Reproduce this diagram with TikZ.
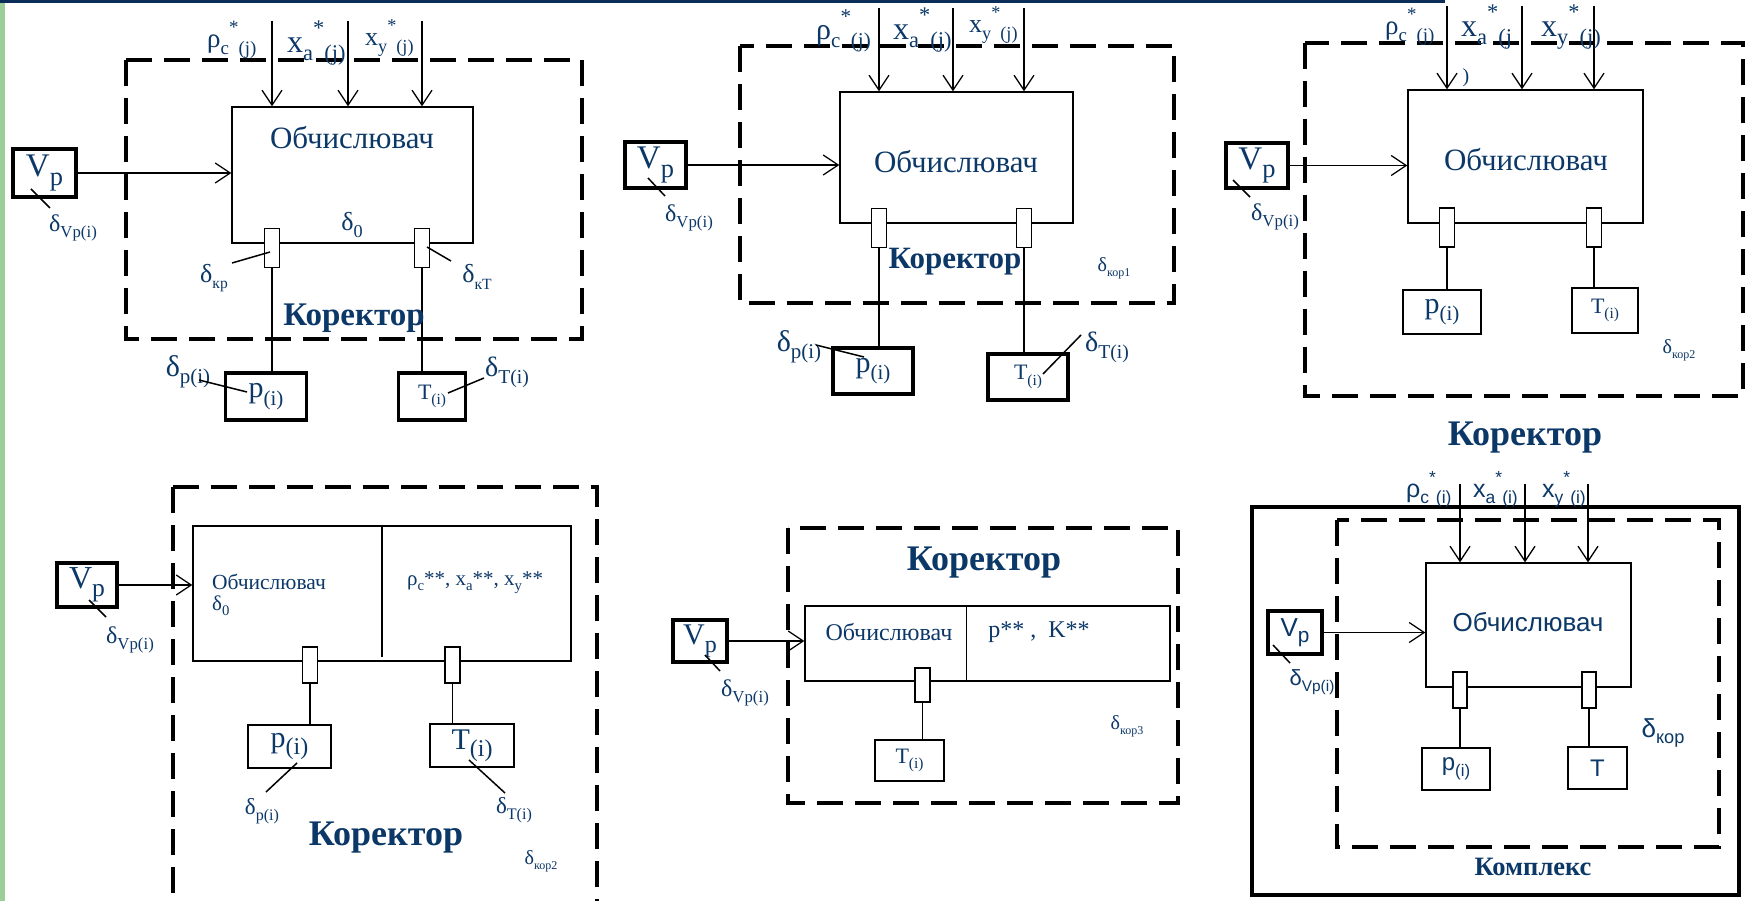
\documentclass[tikz,border=0pt]{standalone}
\usepackage{fontspec}
\setmainfont{Liberation Serif}
\newfontfamily\arialf{Liberation Sans}
\usetikzlibrary{arrows.meta}
\definecolor{navy}{RGB}{12,56,104}
\definecolor{barnavy}{RGB}{10,45,90}
\definecolor{sidegreen}{RGB}{155,206,152}
\newcommand\fs[1]{\fontsize{#1}{#1}\selectfont}
\newcommand\lo[2][0.7]{\raisebox{-0.25em}{\scalebox{#1}{#2}}}
\newcommand\hi[2][0.7]{\raisebox{0.55em}{\scalebox{#1}{#2}}}
\begin{document}
\begin{tikzpicture}[x=1pt,y=-1pt,
 box/.style={draw,line width=1.3pt,inner sep=0pt,text=navy},
 tbox/.style={draw,line width=3.5pt,inner sep=0pt,text=navy},
 sz/.style 2 args={minimum width=#1pt,minimum height=#2pt},
 port/.style={draw,line width=1.3pt,fill=white,inner sep=0pt,minimum width=15pt,minimum height=39pt},
 dbox/.style={draw,line width=4pt,dash pattern=on 26pt off 12pt},
 arr/.style={line width=1.3pt,-{Straight Barb[length=15pt,width=20pt]}},
 lab/.style={text=navy,inner sep=0pt},
 lead/.style={line width=1.5pt},
 wire/.style={line width=1.4pt},
 twire/.style={line width=2.5pt},
 kor/.style={lab,font=\bfseries\fs{#1}}]
\clip (0,0) rectangle (1746,901);
\fill[white] (0,0) rectangle (1746,901);
\fill[barnavy] (0,0) rectangle (1445,3);
\fill[sidegreen] (0,3) rectangle (5,901);

% ---------- Panel 1 ----------
\draw[dbox] (126,60) rectangle (582,339);
\node[box,sz={241}{136}] (ob1) at (352.5,175) {};
\node[lab,font=\fs{31}] (ob1t) at (352,138) {Обчислювач};
\node[lab,font=\fs{26}] (d01) at (352,225) {δ\lo{0}};
\node[port] (pa1) at (272,248) {};
\node[port] (pb1) at (422,248) {};
\node[tbox,sz={81}{47},font=\fs{30}] (p1) at (266,396.5) {p\lo{(i)}};
\node[tbox,sz={67}{47},font=\fs{22}] (t1) at (432,396.5) {T\lo{(i)}};
\node[tbox,sz={63}{48},font=\fs{33}] (v1) at (44.5,173) {V\lo[0.8]{p}};
\coordinate (ia1) at (272,21); \coordinate (ib1) at (348,21); \coordinate (ic1) at (422,21);
\draw[arr] (ia1) -- (ia1 |- ob1.north);
\draw[arr] (ib1) -- (ib1 |- ob1.north);
\draw[arr] (ic1) -- (ic1 |- ob1.north);
\draw[arr] (v1.east) -- (v1.east -| ob1.west);
\draw[twire] (pa1.south) -- (pa1.south |- p1.north);
\draw[twire] (pb1.south) -- (pb1.south |- t1.north);
\node[lab,font=\fs{27},anchor=base west] (lr1) at (207,48) {ρ\lo{c}\hi{*}\lo{(j)}};
\node[lab,font=\fs{32},anchor=base west] (la1) at (287,53) {x\lo{a}\hi{*}\lo{(j)}};
\node[lab,font=\fs{26},anchor=base west] (ly1) at (365,46) {x\lo{y}\hi{*}\lo{(j)}};
\node[kor=33] (k1) at (354,318) {Коректор};
\node[lab,font=\fs{24}] (dv1) at (73,228) {δ\lo{Vp(i)}};
\draw[lead] (31,189) -- (50,208);
\node[lab,font=\fs{26}] (dkp1) at (214,278) {δ\lo[0.6]{кр}};
\draw[lead] (232,263) -- (270,252);
\node[lab,font=\fs{26}] (dkt1) at (477,277) {δ\lo[0.6]{кТ}};
\draw[lead] (427,247) -- (451,261);
\node[lab,font=\fs{30}] (dp1) at (188,372) {δ\lo{p(i)}};
\draw[lead] (199,380) -- (247,392);
\node[lab,font=\fs{28}] (dt1) at (507,372) {δ\lo{T(i)}};
\draw[lead] (484,378) -- (448,393);

% ---------- Panel 2 ----------
\draw[dbox] (740,46) rectangle (1174,303);
\node[box,sz={233}{131}] (ob2) at (956.5,157.5) {};
\node[lab,font=\fs{31}] (ob2t) at (956,162) {Обчислювач};
\node[port] (pa2) at (879,228) {};
\node[port] (pb2) at (1024,228) {};
\node[tbox,sz={80}{46},font=\fs{30}] (p2) at (873,371) {p\lo{(i)}};
\node[tbox,sz={80}{46},font=\fs{22}] (t2) at (1028,377) {T\lo{(i)}};
\node[tbox,sz={61}{46},font=\fs{33}] (v2) at (655.5,165) {V\lo[0.8]{p}};
\coordinate (ia2) at (879,8); \coordinate (ib2) at (953,8); \coordinate (ic2) at (1024,8);
\draw[arr] (ia2) -- (ia2 |- ob2.north);
\draw[arr] (ib2) -- (ib2 |- ob2.north);
\draw[arr] (ic2) -- (ic2 |- ob2.north);
\draw[arr] (v2.east) -- (v2.east -| ob2.west);
\draw[twire] (pa2.south) -- (pa2.south |- p2.north);
\draw[wire] (pb2.south) -- (pb2.south |- t2.north);
\node[lab,font=\fs{30},anchor=base west] (lr2) at (816,40) {ρ\lo{c}\hi{*}\lo{(j)}};
\node[lab,font=\fs{32},anchor=base west] (la2) at (893,40) {x\lo{a}\hi{*}\lo{(j)}};
\node[lab,font=\fs{26},anchor=base west] (ly2) at (969,33) {x\lo{y}\hi{*}\lo{(j)}};
\node[kor=31] (k2) at (955,262) {Коректор};
\node[lab,font=\fs{20}] (dk2) at (1114,268) {δ\lo[0.6]{кор1}};
\node[lab,font=\fs{24}] (dv2) at (689,218) {δ\lo{Vp(i)}};
\draw[lead] (648,178) -- (665,196);
\node[lab,font=\fs{30}] (dp2) at (799,347) {δ\lo{p(i)}};
\draw[lead] (816,345) -- (864,357);
\node[lab,font=\fs{28}] (dt2) at (1107,347) {δ\lo{T(i)}};
\draw[lead] (1081,335) -- (1043,374);

% ---------- Panel 3 ----------
\draw[dbox] (1305,43) rectangle (1743,396);
\node[box,sz={235}{133}] (ob3) at (1525.5,156.5) {};
\node[lab,font=\fs{31}] (ob3t) at (1526,160) {Обчислювач};
\node[port] (pa3) at (1447,227.5) {};
\node[port] (pb3) at (1594,227.5) {};
\node[box,sz={78}{44},font=\fs{30}] (p3) at (1442,312) {p\lo{(i)}};
\node[box,sz={66}{45},font=\fs{22}] (t3) at (1605,310.5) {T\lo{(i)}};
\node[tbox,sz={62}{45},font=\fs{33}] (v3) at (1257,165.5) {V\lo[0.8]{p}};
\coordinate (ia3) at (1447,6); \coordinate (ib3) at (1522,6); \coordinate (ic3) at (1594,6);
\draw[arr] (ia3) -- (ia3 |- ob3.north);
\draw[arr] (ib3) -- (ib3 |- ob3.north);
\draw[arr] (ic3) -- (ic3 |- ob3.north);
\draw[arr] (v3.east) -- (v3.east -| ob3.west);
\draw[wire] (pa3.south) -- (pa3.south |- p3.north);
\draw[wire] (pb3.south) -- (pb3.south |- t3.north);
\node[lab,font=\fs{27},anchor=base west] (lr3) at (1385,35) {ρ\lo{c}\hi{*}\lo{(j)}};
\node[lab,font=\fs{32},anchor=base west] (la3) at (1461,37) {x\lo{a}\hi{*}\lo{(j}};
\node[lab,font=\fs{32},anchor=base west] (ly3) at (1541,37) {x\lo{y}\hi{*}\lo{(j)}};
\node[lab,font=\fs{20}] (par3) at (1466,78) {)};
\node[kor=36] (k3) at (1525,438) {Коректор};
\node[lab,font=\fs{20}] (dk3) at (1679,350) {δ\lo[0.6]{кор2}};
\node[lab,font=\fs{24}] (dv3) at (1275,217) {δ\lo{Vp(i)}};
\draw[lead] (1233,180) -- (1250,197);

% ---------- Panel 4 ----------
\draw[dbox] (173,487) rectangle (597,950);
\node[box,sz={378}{135}] (b4) at (382,593.5) {};
\draw[line width=1.3pt] (b4.north) -- ++(0,132);
\node[lab,font=\fs{21.5},anchor=west] (ob4t) at (212,582) {Обчислювач};
\node[lab,font=\fs{21},anchor=west] (d04) at (212,606) {δ\lo{0}};
\node[lab,font=\fs{21},anchor=west] (rr4) at (407,583) {ρ\lo{c}**, x\lo{a}**, x\lo{y}**};
\node[port,minimum height=36pt] (pa4) at (310,665) {};
\node[port,minimum height=36pt] (pb4) at (452.5,665) {};
\node[box,sz={83}{43},font=\fs{30}] (p4) at (289.5,746.5) {p\lo[0.8]{(i)}};
\node[box,sz={84}{43},font=\fs{30}] (t4) at (472,745.5) {T\lo[0.8]{(i)}};
\node[tbox,sz={60}{44},font=\fs{32}] (v4) at (87,585) {V\lo[0.8]{p}};
\draw[arr] (v4.east) -- (v4.east -| b4.west);
\draw[wire] (pa4.south) -- (pa4.south |- p4.north);
\draw[wire] (pb4.south) -- (pb4.south |- t4.north);
\node[kor=36] (k4) at (386,838) {Коректор};
\node[lab,font=\fs{20}] (dk4) at (541,861) {δ\lo[0.6]{кор2}};
\node[lab,font=\fs{24}] (dv4) at (130,640) {δ\lo{Vp(i)}};
\draw[lead] (89,600) -- (106,617);
\node[lab,font=\fs{23}] (dp4) at (262,811) {δ\lo{p(i)}};
\draw[lead] (297,763) -- (266,792);
\node[lab,font=\fs{23}] (dt4) at (514,810) {δ\lo{T(i)}};
\draw[lead] (469,760) -- (505,793);

% ---------- Panel 5 ----------
\draw[dbox] (788,528) rectangle (1178,803);
\node[box,sz={365}{75}] (b5) at (987.5,643.5) {};
\draw[line width=1.3pt] ([xshift=162pt]b5.north west) -- ([xshift=162pt]b5.south west);
\node[lab,font=\fs{24}] (ob5t) at (889,632) {Обчислювач};
\node[lab,font=\fs{24}] (pk5) at (1039,632) {p** ,\ \ K**};
\node[port,minimum height=34pt] (pa5) at (922.5,685) {};
\node[box,sz={69}{41},font=\fs{22}] (t5) at (909.5,760.5) {T\lo{(i)}};
\node[tbox,sz={54}{42},font=\fs{30}] (v5) at (700,641) {V\lo[0.8]{p}};
\draw[arr] (v5.east) -- (v5.east -| b5.west);
\draw[wire] (pa5.south) -- (pa5.south |- t5.north);
\node[kor=36] (k5) at (984,563) {Коректор};
\node[lab,font=\fs{20}] (dk5) at (1127,726) {δ\lo[0.6]{кор3}};
\node[lab,font=\fs{24}] (dv5) at (745,693) {δ\lo{Vp(i)}};
\draw[lead] (705,655) -- (720,671);

% ---------- Panel 6 ----------
\draw[line width=4pt] (1252,507) rectangle (1739,895);
\draw[dbox] (1337,520) rectangle (1719,847);
\node[box,sz={205}{124}] (ob6) at (1528.5,625) {};
\node[lab,font=\arialf\fs{26}] (ob6t) at (1528,622) {Обчислювач};
\node[port,minimum height=36pt,minimum width=14pt] (pa6) at (1460,690) {};
\node[port,minimum height=36pt,minimum width=14pt] (pb6) at (1589,690) {};
\node[box,sz={68}{42},font=\arialf\fs{24}] (p6) at (1456,769) {p\lo{(i)}};
\node[box,sz={59}{42},font=\arialf\fs{24}] (t6) at (1597.5,768) {T};
\node[tbox,sz={54}{43},font=\arialf\fs{26}] (v6) at (1295,632.5) {V\lo[0.8]{p}};
\coordinate (ia6) at (1460,484); \coordinate (ib6) at (1525,484); \coordinate (ic6) at (1588,484);
\draw[arr] (ia6) -- (ia6 |- ob6.north);
\draw[arr] (ib6) -- (ib6 |- ob6.north);
\draw[arr] (ic6) -- (ic6 |- ob6.north);
\draw[arr] (v6.east) -- (v6.east -| ob6.west);
\draw[wire] (pa6.south) -- (pa6.south |- p6.north);
\draw[wire] (pb6.south) -- (pb6.south |- t6.north);
\node[lab,font=\arialf\fs{25},anchor=base west] (lr6) at (1406,497) {ρ\lo{c}\hi{*}\lo{(i)}};
\node[lab,font=\arialf\fs{25},anchor=base west] (la6) at (1473,497) {x\lo{a}\hi{*}\lo{(i)}};
\node[lab,font=\arialf\fs{25},anchor=base west] (ly6) at (1542,497) {x\lo{y}\hi{*}\lo{(i)}};
\node[lab,font=\arialf\fs{26}] (dk6) at (1663,733) {δ\lo{кор}};
\node[lab,font=\arialf\fs{22}] (dv6) at (1312,682) {δ\lo{Vp(i)}};
\draw[lead] (1273,645) -- (1290,663);
\node[kor=26.5] (k6) at (1533,867) {Комплекс};
\end{tikzpicture}
\end{document}
